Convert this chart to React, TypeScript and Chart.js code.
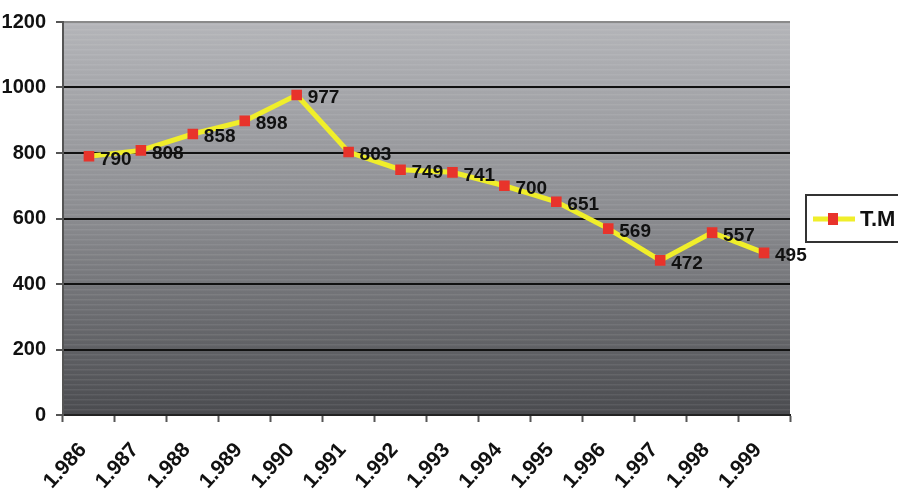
import React, { useEffect, useRef } from "react";
import { Chart, registerables } from "chart.js";

Chart.register(...registerables);

const categories = ["1.986", "1.987", "1.988", "1.989", "1.990", "1.991", "1.992", "1.993", "1.994", "1.995", "1.996", "1.997", "1.998", "1.999"];
const seriesName = "T.M";
const values = [790, 808, 858, 898, 977, 803, 749, 741, 700, 651, 569, 472, 557, 495];
const yTicks = [0, 200, 400, 600, 800, 1000, 1200];

const FONT = '"Liberation Sans Narrow", "Arial Narrow", "Liberation Sans", Arial, sans-serif';

const bgPlugin = {
  id: "bgGradient",
  beforeDraw(chart: any) {
    const { ctx, chartArea } = chart;
    if (!chartArea) return;
    const { left, top, right, bottom } = chartArea;
    const g = ctx.createLinearGradient(0, top, 0, bottom);
    g.addColorStop(0, "#b4b5b9");
    g.addColorStop(0.5, "#8a8b8f");
    g.addColorStop(1, "#4a4b4f");
    ctx.save();
    ctx.fillStyle = g;
    ctx.fillRect(left, top, right - left, bottom - top);
    ctx.globalAlpha = 0.08;
    ctx.fillStyle = "#ffffff";
    for (let y = top + 2; y < bottom; y += 5) {
      ctx.fillRect(left, y, right - left, 1.5);
    }
    ctx.restore();
  },
};

const labelPlugin = {
  id: "valueLabels",
  afterDatasetsDraw(chart: any) {
    const { ctx } = chart;
    const meta = chart.getDatasetMeta(0);
    ctx.save();
    ctx.font = `bold 19px ${FONT}`;
    ctx.fillStyle = "#111111";
    ctx.textAlign = "left";
    ctx.textBaseline = "middle";
    meta.data.forEach((pt: any, i: number) => {
      ctx.fillText(String(values[i]), pt.x + 11, pt.y + 3);
    });
    ctx.restore();
  },
};

const legendPlugin = {
  id: "customLegend",
  afterDraw(chart: any) {
    const { ctx } = chart;
    ctx.save();
    ctx.fillStyle = "#ffffff";
    ctx.fillRect(806, 195, 100, 47);
    ctx.strokeStyle = "#333333";
    ctx.lineWidth = 2;
    ctx.strokeRect(806, 195, 100, 47);
    ctx.strokeStyle = "#f0ee2a";
    ctx.lineWidth = 5;
    ctx.beginPath();
    ctx.moveTo(813, 219);
    ctx.lineTo(855, 219);
    ctx.stroke();
    ctx.fillStyle = "#e8332b";
    ctx.fillRect(828, 213, 10, 12);
    ctx.fillStyle = "#111111";
    ctx.font = `bold 22px ${FONT}`;
    ctx.textAlign = "left";
    ctx.textBaseline = "middle";
    ctx.fillText(seriesName, 860, 220);
    ctx.restore();
  },
};

export default function App() {
  const ref = useRef<HTMLCanvasElement | null>(null);
  useEffect(() => {
    document.body.style.margin = "0";
    if (!ref.current) return;
    const chart = new Chart(ref.current, {
      type: "line",
      data: {
        labels: categories,
        datasets: [
          {
            label: seriesName,
            data: values,
            borderColor: "#f0ee2a",
            borderWidth: 5,
            pointStyle: "rect",
            pointRadius: 7.5,
            pointBackgroundColor: "#e8332b",
            pointBorderColor: "#e8332b",
            pointBorderWidth: 0,
            tension: 0,
          },
        ],
      },
      options: {
        animation: false,
        responsive: false,
        devicePixelRatio: 1,
        layout: { padding: { top: 20, right: 108, left: 0, bottom: 0 } },
        plugins: { legend: { display: false }, tooltip: { enabled: false } },
        scales: {
          x: {
            type: "category",
            offset: true,
            afterFit(scale: any) {
              scale.height = 80;
            },
            grid: {
              offset: true,
              drawOnChartArea: false,
              drawTicks: true,
              tickLength: 7,
              tickColor: "#555555",
              tickWidth: 2,
            },
            border: { color: "#222222", width: 2 },
            ticks: {
              minRotation: 48,
              maxRotation: 48,
              autoSkip: false,
              labelOffset: -6,
              padding: 16,
              color: "#111111",
              font: { family: FONT, size: 21, weight: "bold" },
            },
          },
          y: {
            min: 0,
            max: 1200,
            afterFit(scale: any) {
              scale.width = 63;
            },
            afterBuildTicks(scale: any) {
              scale.ticks = yTicks.map((v) => ({ value: v }));
            },
            grid: {
              color: (c: any) => (c.tick && c.tick.value === 1200 ? "#8a8a8a" : "#111111"),
              lineWidth: 2,
              tickLength: 7,
              tickColor: "#555555",
              drawTicks: true,
            },
            border: { color: "#555555", width: 2 },
            ticks: {
              padding: 10,
              color: "#111111",
              callback: (v: any) => String(v),
              font: { family: FONT, size: 20, weight: "bold" },
            },
          },
        },
      },
      plugins: [bgPlugin, labelPlugin, legendPlugin],
    } as any);
    return () => chart.destroy();
  }, []);
  return (
    <div style={{ position: "fixed", left: 0, top: 0, width: 898, height: 495, background: "#fff" }}>
      <canvas ref={ref} width={898} height={495} style={{ width: 898, height: 495 }} />
    </div>
  );
}
